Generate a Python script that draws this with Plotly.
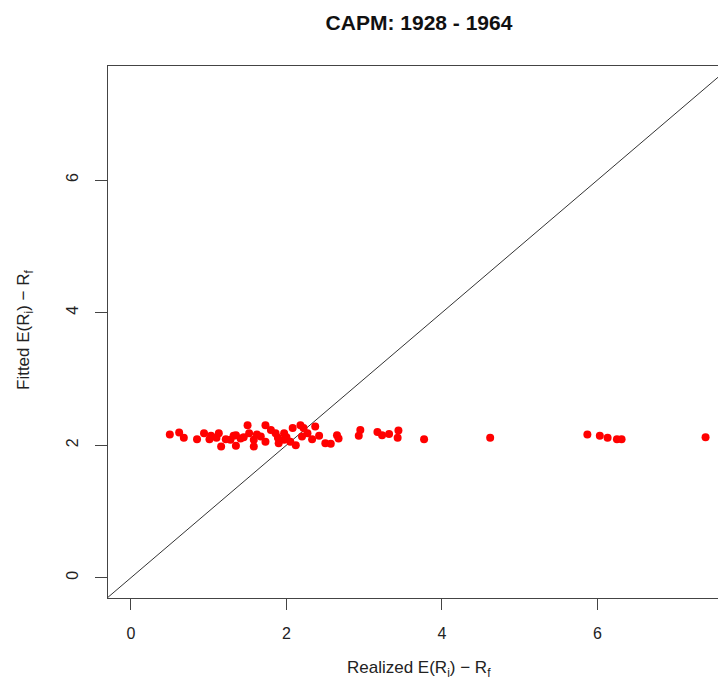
import plotly.graph_objects as go

# Realized excess returns (x) and CAPM-fitted excess returns (y)
realized = [0.50, 0.62, 0.68, 0.85, 0.94, 1.01, 1.03, 1.10, 1.13, 1.16, 1.22, 1.28, 1.32,
            1.35, 1.35, 1.41, 1.45, 1.50, 1.52, 1.58, 1.58, 1.62, 1.67, 1.73, 1.73, 1.80,
            1.86, 1.89, 1.90, 1.97, 1.97, 2.00, 2.05, 2.08, 2.12, 2.18, 2.20, 2.22, 2.27,
            2.33, 2.37, 2.42, 2.50, 2.57, 2.65, 2.67, 2.93, 2.95, 3.17, 3.23, 3.32, 3.43,
            3.44, 3.77, 4.62, 5.87, 6.03, 6.13, 6.25, 6.31, 7.39]
fitted = [2.16, 2.19, 2.11, 2.09, 2.18, 2.09, 2.14, 2.11, 2.18, 1.98, 2.09, 2.08, 2.14,
          2.15, 1.99, 2.10, 2.12, 2.30, 2.18, 2.08, 1.98, 2.16, 2.13, 2.30, 2.05, 2.23,
          2.18, 2.11, 2.03, 2.08, 2.18, 2.12, 2.05, 2.26, 2.00, 2.30, 2.13, 2.26, 2.18,
          2.09, 2.28, 2.14, 2.03, 2.02, 2.15, 2.10, 2.14, 2.23, 2.20, 2.15, 2.17, 2.11,
          2.22, 2.09, 2.11, 2.16, 2.14, 2.11, 2.09, 2.09, 2.12]

ident = [-1, 10]
tick_vals = [0, 2, 4, 6]
tick_text = ["0", "2", "4", "6"]

FONT = "Liberation Sans, Arial, Helvetica, sans-serif"

fig = go.Figure()
fig.add_trace(go.Scatter(x=ident, y=ident, mode="lines",
                         line=dict(color="#333333", width=1), hoverinfo="skip"))
fig.add_trace(go.Scatter(x=realized, y=fitted, mode="markers",
                         marker=dict(color="#ff0000", size=8, line=dict(width=0))))

W, H = 718, 680
L, T, B, R = 108, 66, 82, 0
pw, ph = W - L - R, H - T - B

def px_to_paper_x(px):
    return (px - L) / pw

def px_to_paper_y(py):
    return (H - B - py) / ph

fig.update_layout(
    width=W, height=H,
    margin=dict(l=L, r=R, t=T, b=B),
    paper_bgcolor="white", plot_bgcolor="white",
    showlegend=False,
    font=dict(family=FONT, size=16, color="#222222"),
    title=dict(text="<b>CAPM: 1928 - 1964</b>", font=dict(family=FONT, size=21, color="#111111"),
               xref="paper", x=px_to_paper_x(419), xanchor="center",
               yref="container", y=1 - 23 / H, yanchor="middle"),
    xaxis=dict(range=[-0.295, 7.55], tickvals=tick_vals, ticktext=tick_text,
               showgrid=False, zeroline=False, showline=True, mirror=True,
               linecolor="#444444", linewidth=1, ticks="outside", ticklen=11,
               tickcolor="#444444", ticklabelstandoff=10,
               tickfont=dict(family=FONT, size=16, color="#222222")),
    yaxis=dict(range=[-0.306, 7.72], tickvals=tick_vals, ticktext=tick_text,
               showgrid=False, zeroline=False, showline=True, mirror=False,
               linecolor="#444444", linewidth=1, ticks="outside", ticklen=12,
               tickcolor="#444444", tickangle=-90, ticklabelstandoff=11,
               tickfont=dict(family=FONT, size=16, color="#222222")),
    annotations=[
        dict(text="Realized E(R<sub>i</sub>) − R<sub>f</sub>", xref="paper", yref="paper",
             x=px_to_paper_x(419), y=px_to_paper_y(669), xanchor="center", yanchor="middle",
             showarrow=False, font=dict(family=FONT, size=17, color="#222222")),
        dict(text="Fitted E(R<sub>i</sub>) − R<sub>f</sub>", xref="paper", yref="paper",
             x=px_to_paper_x(25), y=px_to_paper_y(330), xanchor="center", yanchor="middle",
             textangle=-90, showarrow=False, font=dict(family=FONT, size=17, color="#222222")),
    ],
)

fig.write_html("out.html", config={"displayModeBar": False},
               post_script="document.body.style.margin='0';document.body.style.overflow='hidden';")
